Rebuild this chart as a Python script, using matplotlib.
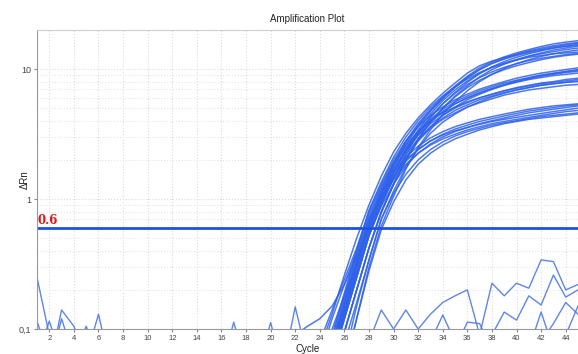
import matplotlib.pyplot as plt
from matplotlib.ticker import NullFormatter

plt.rcParams['font.family'] = ['Liberation Sans', 'DejaVu Sans']

# Amplification curves, delta Rn for cycles 24..45
cycles = list(range(24, 46))

top_group = [
    [0.07, 0.13, 0.26, 0.5, 0.9, 1.5, 2.3, 3.2, 4.2, 5.3, 6.5, 7.8, 9.3, 10.6, 11.5, 12.2, 12.9, 13.6, 14.2, 14.8, 15.3, 15.8],
    [0.04, 0.08, 0.17, 0.36, 0.72, 1.2, 1.9, 2.8, 3.8, 4.9, 6.1, 7.4, 8.8, 10.2, 11.4, 12.4, 13.3, 14.1, 14.9, 15.6, 16.1, 16.5],
    [0.03, 0.06, 0.13, 0.27, 0.55, 0.98, 1.6, 2.4, 3.4, 4.5, 5.7, 6.9, 8.1, 9.3, 10.3, 11.1, 11.8, 12.5, 13.1, 13.6, 14.1, 14.5],
    [0.02, 0.045, 0.095, 0.2, 0.42, 0.8, 1.3, 2.0, 2.9, 3.9, 5.0, 6.2, 7.4, 8.7, 9.9, 10.9, 11.8, 12.6, 13.3, 14.0, 14.5, 15.0],
    [0.043, 0.09, 0.19, 0.4, 0.82, 1.35, 2.1, 3.0, 4.0, 5.1, 6.2, 7.3, 8.4, 9.4, 10.3, 11.0, 11.7, 12.3, 12.7, 13.1, 13.3, 13.5],
    [0.008, 0.02, 0.05, 0.12, 0.3, 0.62, 1.05, 1.7, 2.5, 3.4, 4.5, 5.6, 6.8, 8.0, 9.1, 10.1, 11.0, 11.8, 12.5, 13.1, 13.6, 14.0],
    [0.032, 0.068, 0.14, 0.3, 0.62, 1.08, 1.75, 2.6, 3.6, 4.7, 5.9, 7.2, 8.6, 9.9, 11.1, 12.1, 13.0, 13.8, 14.5, 15.1, 15.6, 16.0],
    [0.027, 0.057, 0.12, 0.25, 0.52, 0.9, 1.45, 2.2, 3.2, 4.2, 5.4, 6.6, 7.9, 9.2, 10.4, 11.4, 12.3, 13.1, 13.8, 14.5, 15.0, 15.5],
    [0.035, 0.075, 0.16, 0.34, 0.66, 1.15, 1.85, 2.7, 3.7, 4.8, 6.0, 7.3, 8.6, 9.9, 11.0, 11.9, 12.7, 13.4, 14.0, 14.5, 14.9, 15.2],
    [0.02, 0.045, 0.095, 0.2, 0.42, 0.78, 1.3, 2.0, 2.9, 3.9, 5.0, 6.1, 7.2, 8.2, 9.1, 9.9, 10.6, 11.2, 11.8, 12.3, 12.7, 13.0],
]

second_group = [
    [0.08, 0.14, 0.24, 0.42, 0.8, 1.3, 2.0, 2.8, 3.6, 4.4, 5.1, 5.8, 6.4, 7.0, 7.5, 8.0, 8.5, 8.9, 9.3, 9.6, 9.9, 10.2],
    [0.03, 0.06, 0.13, 0.27, 0.56, 1.0, 1.6, 2.3, 3.1, 3.9, 4.7, 5.4, 6.0, 6.6, 7.1, 7.6, 8.1, 8.5, 8.9, 9.2, 9.5, 9.8],
    [0.035, 0.075, 0.16, 0.33, 0.68, 1.15, 1.8, 2.5, 3.3, 4.1, 4.9, 5.6, 6.2, 6.8, 7.3, 7.8, 8.2, 8.6, 9.0, 9.3, 9.6, 9.9],
    [0.022, 0.045, 0.095, 0.2, 0.42, 0.8, 1.3, 2.0, 2.8, 3.6, 4.4, 5.1, 5.8, 6.4, 7.0, 7.5, 8.0, 8.4, 8.8, 9.1, 9.4, 9.6],
    [0.03, 0.065, 0.14, 0.3, 0.62, 1.1, 1.7, 2.4, 3.2, 4.0, 4.7, 5.4, 6.0, 6.5, 7.0, 7.5, 7.9, 8.3, 8.6, 8.9, 9.1, 9.3],
]

third_group = [
    [0.06, 0.12, 0.22, 0.4, 0.76, 1.25, 1.9, 2.6, 3.3, 4.0, 4.6, 5.1, 5.6, 6.0, 6.4, 6.8, 7.1, 7.4, 7.7, 7.9, 8.1, 8.3],
    [0.03, 0.06, 0.13, 0.27, 0.55, 0.95, 1.5, 2.2, 2.9, 3.6, 4.2, 4.8, 5.3, 5.8, 6.2, 6.6, 6.9, 7.2, 7.5, 7.7, 7.9, 8.1],
    [0.033, 0.07, 0.145, 0.3, 0.63, 1.05, 1.65, 2.35, 3.1, 3.8, 4.4, 5.0, 5.5, 6.0, 6.4, 6.8, 7.2, 7.5, 7.8, 8.0, 8.3, 8.5],
    [0.01, 0.025, 0.06, 0.15, 0.34, 0.7, 1.15, 1.75, 2.45, 3.2, 3.9, 4.5, 5.1, 5.6, 6.1, 6.5, 6.9, 7.2, 7.5, 7.7, 7.9, 8.0],
    [0.025, 0.055, 0.12, 0.25, 0.52, 0.92, 1.45, 2.1, 2.8, 3.5, 4.1, 4.6, 5.1, 5.5, 5.9, 6.3, 6.6, 6.9, 7.1, 7.3, 7.5, 7.6],
]

fourth_group = [
    [0.034, 0.072, 0.15, 0.32, 0.66, 1.05, 1.5, 2.0, 2.4, 2.8, 3.1, 3.35, 3.55, 3.75, 3.95, 4.1, 4.25, 4.4, 4.55, 4.7, 4.85, 5.0],
    [0.028, 0.058, 0.12, 0.25, 0.53, 0.88, 1.3, 1.8, 2.25, 2.65, 3.0, 3.3, 3.55, 3.8, 4.0, 4.2, 4.4, 4.6, 4.75, 4.9, 5.05, 5.2],
    [0.018, 0.037, 0.078, 0.16, 0.34, 0.7, 1.1, 1.55, 2.0, 2.4, 2.75, 3.05, 3.3, 3.5, 3.7, 3.85, 4.0, 4.15, 4.3, 4.4, 4.5, 4.6],
    [0.05, 0.1, 0.18, 0.32, 0.6, 0.98, 1.45, 1.95, 2.4, 2.8, 3.15, 3.45, 3.7, 3.95, 4.15, 4.35, 4.55, 4.75, 4.9, 5.05, 5.2, 5.3],
    [0.01, 0.02, 0.05, 0.12, 0.28, 0.58, 0.95, 1.4, 1.85, 2.25, 2.6, 2.9, 3.15, 3.4, 3.6, 3.8, 3.95, 4.1, 4.2, 4.3, 4.4, 4.5],
    [0.03, 0.065, 0.14, 0.3, 0.6, 0.95, 1.4, 1.85, 2.25, 2.6, 2.9, 3.15, 3.4, 3.6, 3.8, 3.95, 4.1, 4.25, 4.4, 4.55, 4.7, 4.8],
    [0.04, 0.085, 0.18, 0.38, 0.7, 1.1, 1.6, 2.1, 2.55, 2.95, 3.3, 3.6, 3.85, 4.1, 4.3, 4.5, 4.7, 4.9, 5.05, 5.2, 5.3, 5.4],
]

# one early-rising well, cycles 22..45
odd_cycles = list(range(22, 46))
odd_values = [0.09, 0.105, 0.12, 0.15, 0.22, 0.36, 0.6, 1.0, 1.6, 2.4, 3.3, 4.3, 5.4, 6.5, 7.6, 8.6, 9.5, 10.3, 11.0, 11.6, 12.1, 12.5, 12.9, 13.2]

# baseline noise / negative wells
noise_cycles = [
    [1, 2], [1, 2], [1, 2, 3], [2, 3, 4, 5], [2, 3, 4], [4, 5, 6], [5, 6, 7],
    [16, 17, 18], [19, 20, 21], [21, 22, 23],
    list(range(28, 46)), list(range(38, 46)), [33, 34, 35], [35, 36, 37, 38],
    [41, 42, 43], [42, 43, 44, 45], [43, 44, 45],
]
noise_values = [
    [0.25, 0.09], [0.115, 0.06], [0.06, 0.115, 0.06], [0.05, 0.14, 0.105, 0.06], [0.05, 0.12, 0.06],
    [0.06, 0.105, 0.06], [0.06, 0.13, 0.05],
    [0.05, 0.113, 0.05], [0.05, 0.112, 0.05], [0.05, 0.148, 0.06],
    [0.08, 0.14, 0.1, 0.14, 0.1, 0.13, 0.16, 0.18, 0.2, 0.09, 0.225, 0.18, 0.225, 0.206, 0.34, 0.33, 0.2, 0.22],
    [0.09, 0.135, 0.117, 0.18, 0.153, 0.26, 0.176, 0.2],
    [0.08, 0.128, 0.08], [0.07, 0.113, 0.11, 0.07],
    [0.07, 0.135, 0.07], [0.08, 0.11, 0.16, 0.13], [0.07, 0.09, 0.15],
]

threshold = 0.6

fig = plt.figure(figsize=(5.78, 3.54), dpi=100)
ax = fig.add_axes([0.064, 0.0706, 0.936, 0.845])

curve_color = '#2f62ea'
for group in [top_group, second_group, third_group, fourth_group]:
    for vals in group:
        ax.plot(cycles, vals, color=curve_color, lw=1.1, alpha=0.85)
ax.plot(odd_cycles, odd_values, color=curve_color, lw=1.1, alpha=0.85)

for cx, vals in zip(noise_cycles, noise_values):
    ax.plot(cx, vals, color='#4d78e6', lw=1.0, alpha=0.9)

ax.axhline(threshold, color='#1f50e6', lw=2.0)
ax.text(1.05, threshold * 1.02, '0.6', color='#e01515', fontsize=8.5,
        family='serif', fontweight='bold', va='bottom', ha='left')

ax.set_yscale('log')
ax.set_xlim(1, 45)
ax.set_ylim(0.1, 20)
ax.set_yticks([0.1, 1, 10])
ax.set_yticklabels(['0,1', '1', '10'])
ax.yaxis.set_minor_formatter(NullFormatter())
ax.set_xticks(range(2, 46, 2))

ax.tick_params(which='major', labelsize=5.5, length=2, color='#888888', labelcolor='#444444', pad=2)
ax.tick_params(axis='y', labelsize=6.5)
ax.tick_params(which='minor', length=0)

ax.grid(True, which='major', color='#dcdcdc', ls=':', lw=0.8)
ax.yaxis.grid(True, which='minor', color='#e4e4e4', ls=':', lw=0.8)

for side in ['left', 'bottom']:
    ax.spines[side].set_color('#999999')
ax.spines['top'].set_color('#d0d0d0')
ax.spines['right'].set_visible(False)

ax.set_title('Amplification Plot', fontsize=7, pad=6, color='#222222')
ax.set_xlabel('Cycle', fontsize=7, labelpad=2, color='#222222')
ax.set_ylabel('\u0394Rn', fontsize=7, color='#222222')
ax.yaxis.set_label_coords(-0.013, 0.5)

fig.savefig('out.png', dpi=100)
